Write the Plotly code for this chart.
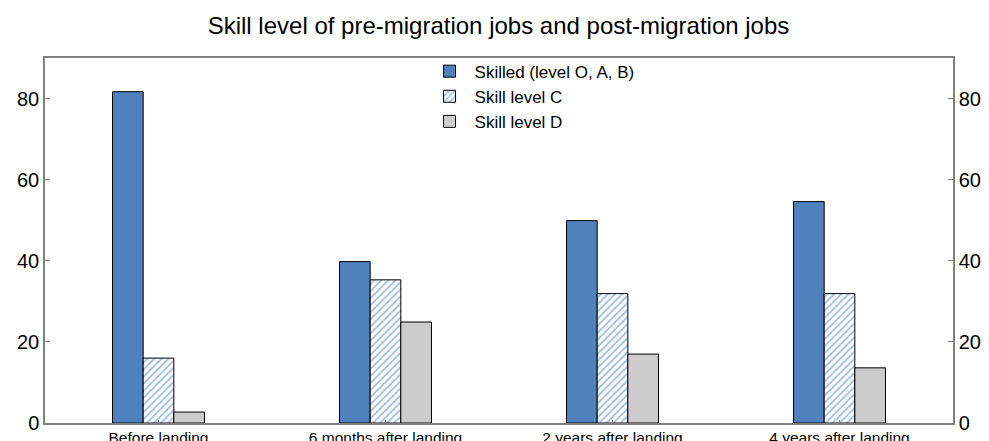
import plotly.graph_objects as go

categories = ["Before landing", "6 months after landing", "2 years after landing", "4 years after landing"]
skilled = [81.7, 39.8, 49.9, 54.6]
level_c = [16.0, 35.3, 31.9, 31.9]
level_d = [2.7, 24.9, 17.0, 13.6]
series_names = ["Skilled (level O, A, B)", "Skill level C", "Skill level D"]
title_text = "Skill level of pre-migration jobs and post-migration jobs"

BLUE = "#4f81bd"
GREY = "#cccccc"
FONT = "Liberation Sans, Arial, sans-serif"
W, H = 981, 433

fig = go.Figure()
fig.add_trace(go.Bar(x=categories, y=skilled, name=series_names[0],
                     marker=dict(color=BLUE, line=dict(color="black", width=1))))
fig.add_trace(go.Bar(x=categories, y=level_c, name=series_names[1],
                     marker=dict(color="white", line=dict(color="black", width=1),
                                 pattern=dict(shape="/", fgcolor=BLUE, bgcolor="white",
                                              size=5, solidity=0.4))))
fig.add_trace(go.Bar(x=categories, y=level_d, name=series_names[2],
                     marker=dict(color=GREY, line=dict(color="black", width=1))))

fig.update_layout(
    width=W, height=H,
    margin=dict(l=37, r=36, t=50, b=18, autoexpand=False),
    paper_bgcolor="white", plot_bgcolor="white",
    font=dict(family=FONT, color="black"),
    title=dict(text=title_text, x=0.5, xanchor="center", y=1 - 18 / H, yanchor="middle",
               yref="container", font=dict(size=24, family=FONT)),
    barmode="group", bargap=0.595, bargroupgap=0,
    showlegend=True,
    legend=dict(x=0.418, xanchor="left", y=1.012, yanchor="top",
                bgcolor="rgba(255,255,255,0)", font=dict(size=17, family=FONT),
                tracegroupgap=0, itemwidth=40),
    xaxis=dict(showline=True, linecolor="#808080", linewidth=1.5, mirror=True,
               ticks="inside", ticklen=3, tickcolor="#808080", automargin=False,
               tickfont=dict(size=15.5, family=FONT), showgrid=False, zeroline=False),
    yaxis=dict(range=[0, 90], tickvals=[0, 20, 40, 60, 80], showline=True,
               linecolor="#808080", linewidth=1.5, ticks="inside", ticklen=5,
               tickcolor="#808080", tickfont=dict(size=20, family=FONT), automargin=False,
               showgrid=False, zeroline=False),
    yaxis2=dict(range=[0, 90], tickvals=[0, 20, 40, 60, 80], overlaying="y", side="right",
                matches="y", showline=True, linecolor="#808080", linewidth=1.5,
                ticks="inside", ticklen=5, tickcolor="#808080", automargin=False,
                tickfont=dict(size=20, family=FONT), showgrid=False, zeroline=False),
)
fig.add_trace(go.Scatter(x=categories, y=[None] * len(categories), yaxis="y2",
                         showlegend=False, hoverinfo="skip"))

fig.write_html("out.html")
